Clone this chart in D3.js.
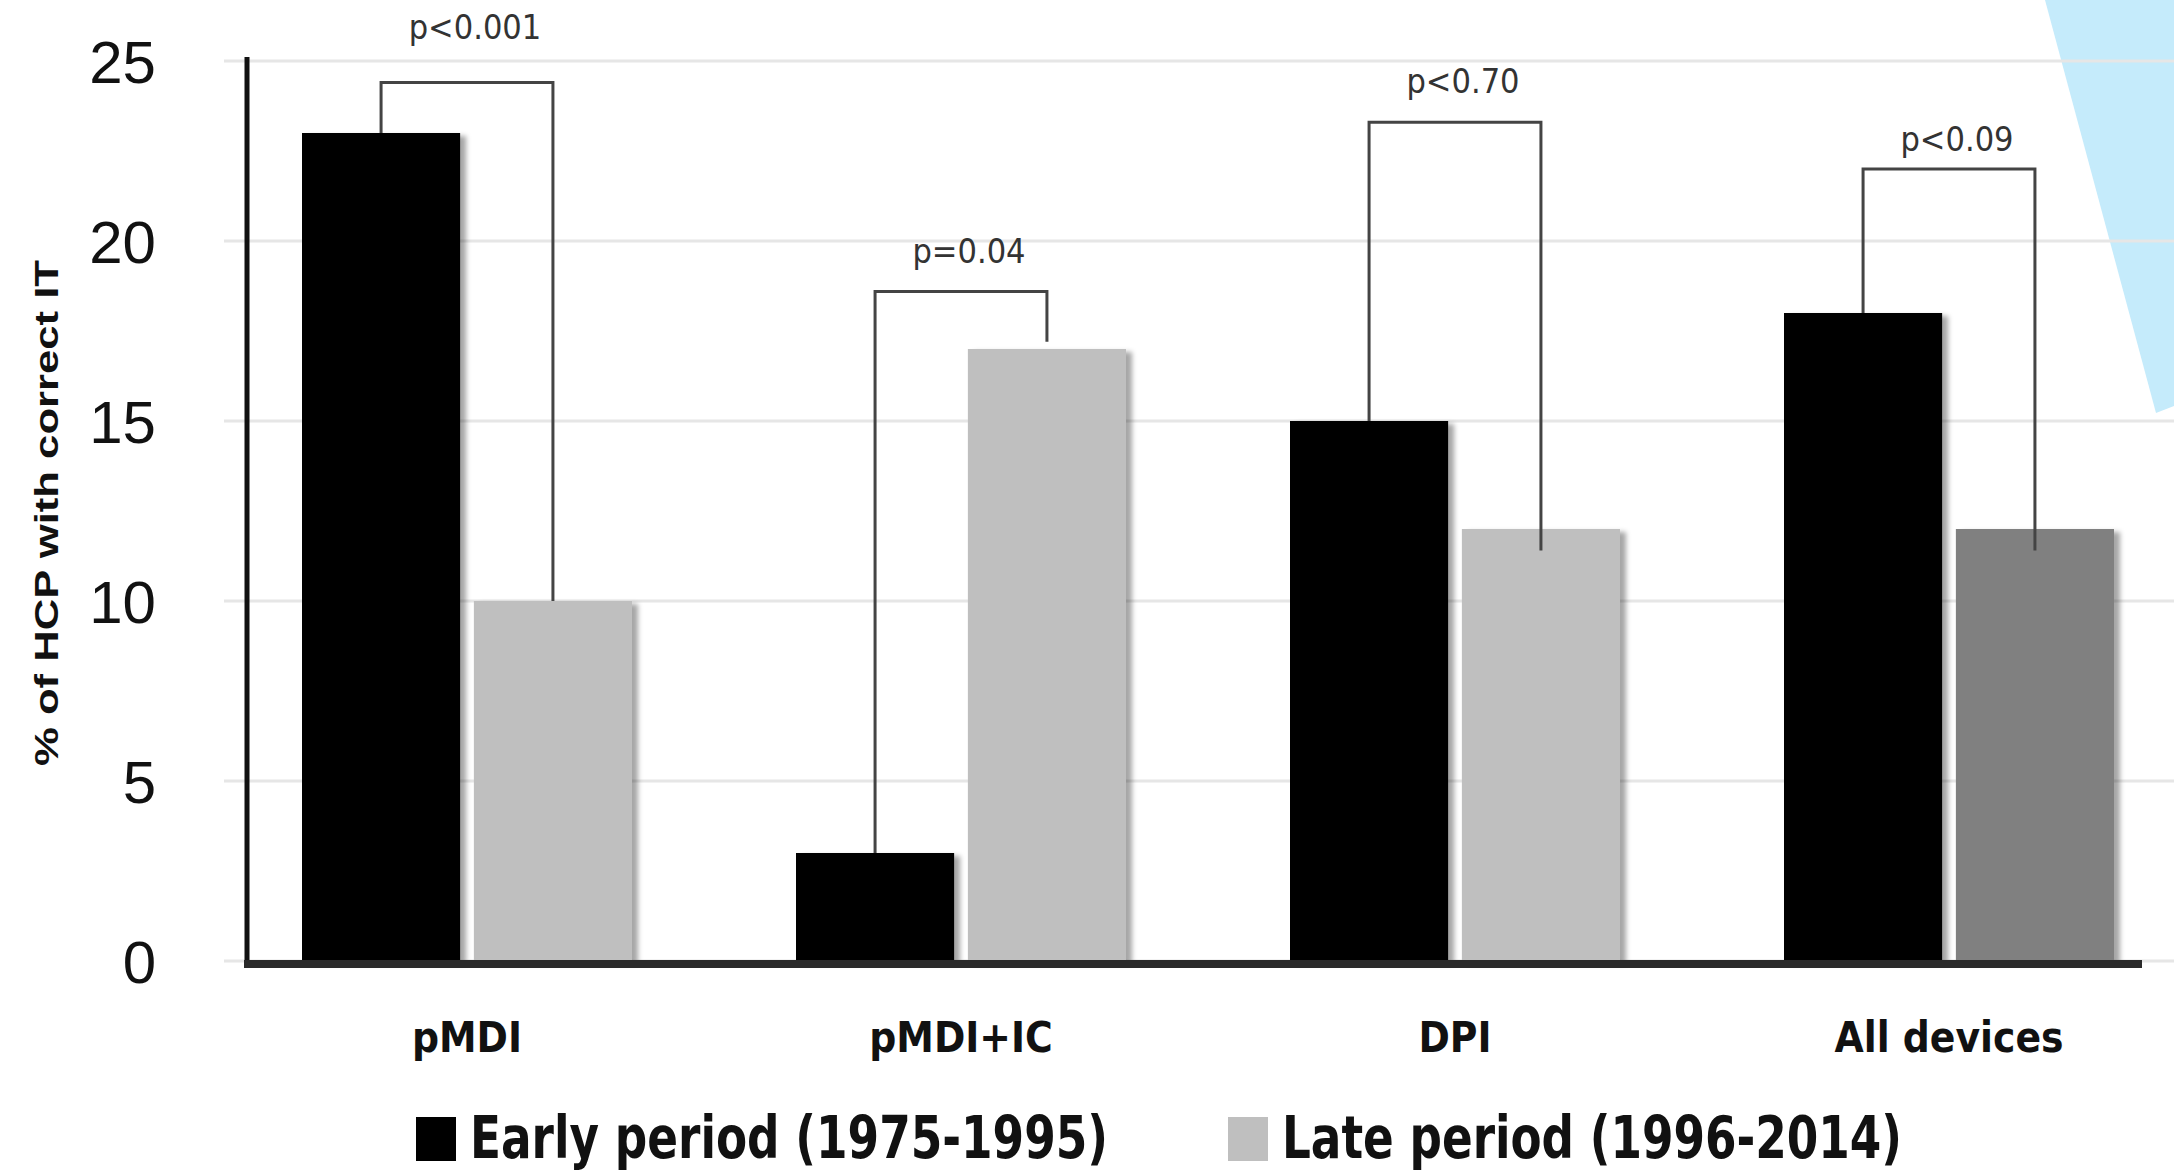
<!DOCTYPE html>
<html>
<head>
<meta charset="utf-8">
<script src="https://cdn.jsdelivr.net/npm/d3@7"></script>
<style>
  html, body { margin: 0; padding: 0; background: #fff; }
  svg { display: block; }
</style>
</head>
<body>
<div id="chart"></div>
<script>
// data
const categories = ["pMDI", "pMDI+IC", "DPI", "All devices"]
const earlyValues = [23, 3, 15, 18]
const lateValues = [10, 17, 12, 12]
const seriesNames = ["Early period (1975-1995)", "Late period (1996-2014)"]
const pLabels = ["p<0.001", "p=0.04", "p<0.70", "p<0.09"]
const bracketTops = [24.4, 18.6, 23.3, 22.0]      // height of the bracket bar
const bracketRightEnds = [10, 17.2, 11.4, 11.4]   // where the right leg stops
const pLabelLevels = [25.6, 19.4, 24.1, 22.5]     // baseline of the p text
const yTicks = [0, 5, 10, 15, 20, 25]

// size of the page
const W = 2174, H = 1172

const svg = d3.select("#chart")
  .append("svg")
    .attr("width", W)
    .attr("height", H)

// soft shadow like the office chart
const defs = svg.append("defs")
const shadow = defs.append("filter")
    .attr("id", "barShadow")
    .attr("x", "-10%").attr("y", "-10%")
    .attr("width", "130%").attr("height", "130%")
shadow.append("feDropShadow")
    .attr("dx", 6).attr("dy", 3)
    .attr("stdDeviation", 2.5)
    .attr("flood-color", "#000")
    .attr("flood-opacity", 0.35)

// blue shape cut off at the top right corner
svg.append("polygon")
    .attr("points", "2045,0 2174,0 2174,406 2156,413")
    .attr("fill", "#c5ebfb")

// scales
const x = d3.scaleBand()
    .domain(categories)
    .range([220, 2196])
    .padding(0)

const xSub = d3.scaleBand()
    .domain(["early", "late"])
    .range([82, 412])
    .paddingInner(0.08)

const y = d3.scaleLinear()
    .domain([0, 25])
    .range([961, 61])

// gridlines
svg.append("g")
  .selectAll("line")
  .data(yTicks)
  .join("line")
    .attr("x1", 224)
    .attr("x2", W)
    .attr("y1", d => y(d))
    .attr("y2", d => y(d))
    .attr("stroke", "#e6e6e6")
    .attr("stroke-width", 3)

// y tick labels
svg.append("g")
  .selectAll("text")
  .data(yTicks)
  .join("text")
    .attr("x", 156)
    .attr("y", d => y(d))
    .attr("dy", "0.36em")
    .attr("text-anchor", "end")
    .attr("font-family", "'Liberation Sans', Arial, sans-serif")
    .attr("font-size", 60)
    .attr("fill", "#111")
    .text(d => d)

// y axis title
svg.append("text")
    .attr("transform", "translate(46,513) rotate(-90)")
    .attr("dy", "0.35em")
    .attr("text-anchor", "middle")
    .attr("font-family", "'Liberation Sans', Arial, sans-serif")
    .attr("font-weight", "bold")
    .attr("font-size", 33)
    .attr("textLength", 506)
    .attr("lengthAdjust", "spacingAndGlyphs")
    .attr("fill", "#111")
    .text("% of HCP with correct IT")

// bars
const groups = svg.append("g")
  .selectAll("g")
  .data(categories)
  .join("g")
    .attr("transform", d => `translate(${x(d)},0)`)

groups.append("rect")
    .attr("x", xSub("early"))
    .attr("width", xSub.bandwidth())
    .attr("y", (d, i) => y(earlyValues[i]))
    .attr("height", (d, i) => y(0) - y(earlyValues[i]))
    .attr("fill", "#000")
    .attr("filter", "url(#barShadow)")

groups.append("rect")
    .attr("x", xSub("late"))
    .attr("width", xSub.bandwidth())
    .attr("y", (d, i) => y(lateValues[i]))
    .attr("height", (d, i) => y(0) - y(lateValues[i]))
    .attr("fill", (d, i) => i == categories.length - 1 ? "#808080" : "#bfbfbf")
    .attr("filter", "url(#barShadow)")

// axis lines
svg.append("line")
    .attr("x1", 247).attr("x2", 247)
    .attr("y1", 57).attr("y2", 966)
    .attr("stroke", "#111")
    .attr("stroke-width", 5)

svg.append("line")
    .attr("x1", 244).attr("x2", 2142)
    .attr("y1", 964).attr("y2", 964)
    .attr("stroke", "#2a2a2a")
    .attr("stroke-width", 8)

// significance brackets
const leftLeg = i => x(categories[i]) + xSub("early") + xSub.bandwidth() / 2
const rightLeg = i => x(categories[i]) + xSub("late") + xSub.bandwidth() / 2

svg.append("g")
  .selectAll("path")
  .data(categories)
  .join("path")
    .attr("d", (d, i) => `M${leftLeg(i)},${y(earlyValues[i])}V${y(bracketTops[i])}H${rightLeg(i)}V${y(bracketRightEnds[i])}`)
    .attr("fill", "none")
    .attr("stroke", "#444")
    .attr("stroke-width", 3)

svg.append("g")
  .selectAll("text")
  .data(pLabels)
  .join("text")
    .attr("x", (d, i) => (leftLeg(i) + rightLeg(i)) / 2 + 8)
    .attr("y", (d, i) => y(pLabelLevels[i]))
    .attr("text-anchor", "middle")
    .attr("font-family", "'Liberation Sans Narrow', 'DejaVu Sans Condensed', 'Liberation Sans', sans-serif")
    .attr("font-size", 34)
    .attr("fill", "#333")
    .text(d => d)

// category labels
svg.append("g")
  .selectAll("text")
  .data(categories)
  .join("text")
    .attr("x", d => x(d) + x.bandwidth() / 2)
    .attr("y", 1052)
    .attr("text-anchor", "middle")
    .attr("font-family", "'Liberation Sans Narrow', 'DejaVu Sans Condensed', 'Liberation Sans', sans-serif")
    .attr("font-weight", "bold")
    .attr("font-size", 42)
    .attr("fill", "#111")
    .text(d => d)

// legend
const legendX = [416, 1228]
const legendW = [638, 620]
const legendColors = ["#000", "#bfbfbf"]
const legend = svg.append("g")
  .selectAll("g")
  .data(seriesNames)
  .join("g")
    .attr("transform", (d, i) => `translate(${legendX[i]},0)`)

legend.append("rect")
    .attr("x", 0)
    .attr("y", 1117)
    .attr("width", 40)
    .attr("height", 44)
    .attr("fill", (d, i) => legendColors[i])

legend.append("text")
    .attr("x", 54)
    .attr("y", 1158)
    .attr("font-family", "'Liberation Sans Narrow', 'DejaVu Sans Condensed', 'Liberation Sans', sans-serif")
    .attr("font-weight", "bold")
    .attr("font-size", 58)
    .attr("textLength", (d, i) => legendW[i])
    .attr("lengthAdjust", "spacingAndGlyphs")
    .attr("fill", "#111")
    .text(d => d)
</script>
</body>
</html>
